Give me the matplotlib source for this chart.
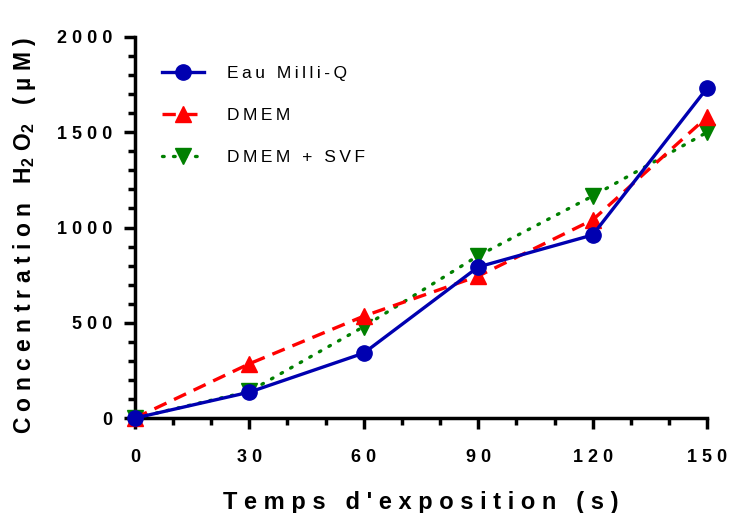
import matplotlib
matplotlib.use("Agg")
import matplotlib.pyplot as plt
from matplotlib.ticker import MultipleLocator

# data
temps = [0, 30, 60, 90, 120, 150]
eau_milliq = [0, 136, 341, 793, 961, 1732]
dmem = [0, 285, 535, 745, 1040, 1580]
dmem_svf = [0, 140, 480, 852, 1165, 1500]

labels = ["Eau Milli-Q", "DMEM", "DMEM + SVF"]
xticks = [0, 30, 60, 90, 120, 150]
yticks = [0, 500, 1000, 1500, 2000]


def spaced(s, sep=" "):
    return sep.join(s)


plt.rcParams['font.family'] = ['Liberation Sans', 'DejaVu Sans']
plt.rcParams['mathtext.default'] = 'regular'

fig = plt.figure(figsize=(7.29, 5.13), dpi=100)
ax = fig.add_axes([0.185, 0.185, 0.785, 0.743])

ax.plot(temps, eau_milliq, color='#0000b0', lw=2.4, marker='o', ms=11,
        label=spaced(labels[0], "\u2009"), clip_on=False, zorder=5)
ax.plot(temps, dmem, color='#ff0000', lw=2.4, ls=(0, (4, 2.5)), marker='^', ms=11,
        label=spaced(labels[1], "\u2009"), clip_on=False, zorder=4)
ax.plot(temps, dmem_svf, color='#008000', lw=2.4, ls=(0, (0.5, 2.8)), dash_capstyle='round',
        marker='v', ms=11, label=spaced(labels[2], "\u2009"), clip_on=False, zorder=3)

ax.set_xlim(0, 150)
ax.set_ylim(0, 2000)
ax.set_xticks(xticks)
ax.set_yticks(yticks)
ax.xaxis.set_minor_locator(MultipleLocator(10))
ax.yaxis.set_minor_locator(MultipleLocator(100))
ax.set_xticklabels([spaced(str(t)) for t in xticks], fontweight='bold', fontsize=13)
ax.set_yticklabels([spaced(str(t)) for t in yticks], fontweight='bold', fontsize=13)

for s in ['top', 'right']:
    ax.spines[s].set_visible(False)
for s in ['left', 'bottom']:
    ax.spines[s].set_linewidth(2.5)
ax.tick_params(which='major', length=8, width=2.5, direction='out')
ax.tick_params(axis='x', which='major', pad=14)
ax.tick_params(axis='y', which='major', pad=8)
ax.tick_params(which='minor', length=5, width=2.5, direction='out')

ax.set_xlabel(spaced("Temps d'exposition (s)"), fontweight='bold', fontsize=17, labelpad=18)
ylab = spaced("Concentration H") + "$_2$ " + "O" + "$_2$ " + spaced(" (µM)")
ax.set_ylabel(ylab, fontweight='bold', fontsize=16.5)
ax.yaxis.set_label_coords(-0.17, 0.479)

leg = ax.legend(loc='upper left', bbox_to_anchor=(0.02, 0.965), frameon=False, fontsize=12.5,
                handlelength=2.4, handletextpad=1.35, labelspacing=1.55)

fig.savefig("out.png", dpi=100)
